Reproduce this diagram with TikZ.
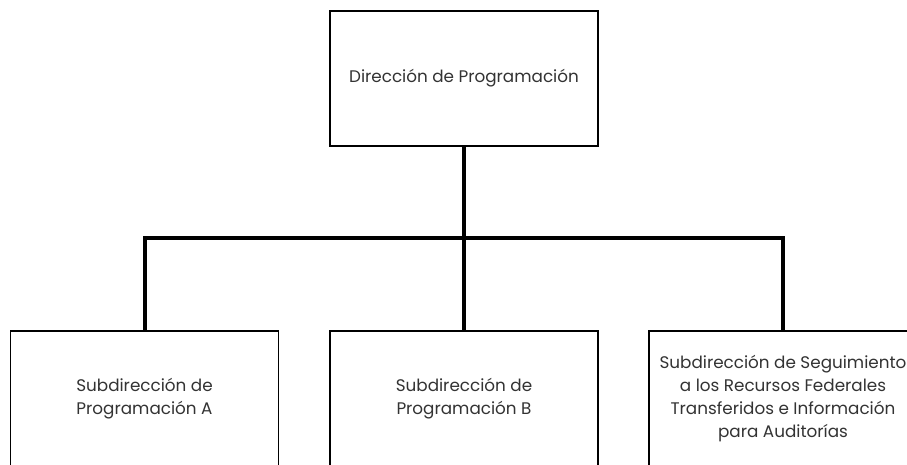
\documentclass[tikz,border=0pt]{standalone}
\usepackage{fontspec}
\setmainfont{Poppins}
\begin{document}
\begin{tikzpicture}[x=1pt,y=-1pt,
  box/.style={draw=black,line width=1.6pt,fill=white,minimum width=268pt,inner sep=0pt,align=center,text=black!80,font=\fontsize{16.8}{23}\selectfont},
  link/.style={line width=4pt,line cap=butt}]
\useasboundingbox (0,0) rectangle (907,464);
\node[box,minimum height=135pt] (top) at (464,78.5) {Dirección de Programación};
\node[box,minimum height=136pt] (a) at (144.5,399) {Subdirección de\\Programación A};
\node[box,minimum height=136pt] (b) at (464,399) {Subdirección de\\Programación B};
\node[box,minimum height=136pt] (c) at (783,399) {Subdirección de Seguimiento\\a los Recursos Federales\\Transferidos e Información\\para Auditorías};
\coordinate (j) at (464,238);
\coordinate (jl) at (a.north |- j);
\coordinate (jr) at (c.north |- j);
\draw[link] (top.south) -- (b.north);
\draw[link] (a.north) -- (jl) -- (jr) -- (c.north);
\end{tikzpicture}
\end{document}
